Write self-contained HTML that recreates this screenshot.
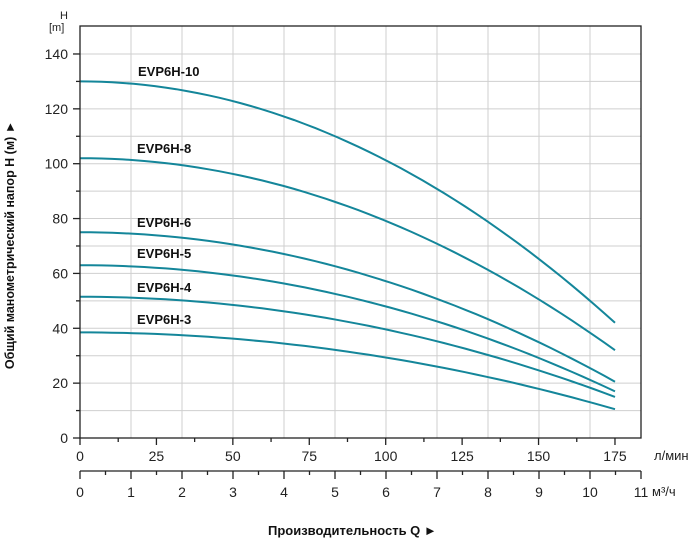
<!DOCTYPE html>
<html><head><meta charset="utf-8"><style>
body{margin:0;background:#fff;}
svg{display:block;font-family:"Liberation Sans",sans-serif;}
</style></head><body>
<svg id="s" width="700" height="547" viewBox="0 0 700 547" xmlns="http://www.w3.org/2000/svg">
<g id="grid" stroke="#cfcfcf" stroke-width="1"></g>
<g id="curves" fill="none" stroke="#14869a" stroke-width="2"></g>
<g id="axes" stroke="#222" stroke-width="1.3" fill="none"></g>
<g id="txt" font-size="14" fill="#222"></g>
<text x="60" y="19" font-size="11" fill="#222">H</text>
<text x="49" y="31" font-size="11" fill="#222">[m]</text>
<g font-size="13" font-weight="bold" fill="#111">
<text x="138" y="76">EVP6H-10</text>
<text x="137" y="153">EVP6H-8</text>
<text x="137" y="227">EVP6H-6</text>
<text x="137" y="258">EVP6H-5</text>
<text x="137" y="292">EVP6H-4</text>
<text x="137" y="324">EVP6H-3</text>
</g>
<text x="654" y="460" font-size="13" fill="#222">л/мин</text>
<text x="652" y="496" font-size="13" fill="#222">м³/ч</text>
<text x="268" y="535" font-size="13" font-weight="bold" fill="#111">Производительность Q ►</text>
<text transform="translate(14,245) rotate(-90)" text-anchor="middle" font-size="12.5" font-weight="bold" fill="#111">Общий манометрический напор H (м) ►</text>
</svg>
<script>
const ns="http://www.w3.org/2000/svg";
function el(p,t,a,txt){const e=document.createElementNS(ns,t);for(const k in a)e.setAttribute(k,a[k]);if(txt!==undefined)e.textContent=txt;document.getElementById(p).appendChild(e);}
const X0=80,X1=641,YB=438,YT=26;
const yv=h=>YB-h*2.743, xq=q=>X0+q*3.057, xm=m=>X0+m*51;
for(let m=1;m<=10;m++)el('grid','line',{x1:xm(m),x2:xm(m),y1:YT,y2:YB});
for(let h=10;h<=140;h+=10)el('grid','line',{x1:X0,x2:X1,y1:yv(h),y2:yv(h)});
el('axes','rect',{x:X0,y:YT,width:X1-X0,height:YB-YT});
for(let h=0;h<=140;h+=10){el('axes','line',{x1:X0-(h%20?4:7),x2:X0,y1:yv(h),y2:yv(h)});
 if(h%20==0)el('txt','text',{x:X0-12,y:yv(h)+5,'text-anchor':'end'},h);}
for(let q=0;q<=175;q+=12.5){const x=xq(q);el('axes','line',{x1:x,x2:x,y1:YB,y2:YB+(q%25?4:7)});
 if(q%25==0)el('txt','text',{x:x,y:461,'text-anchor':'middle'},q);}
el('axes','line',{x1:X0,x2:X1,y1:471,y2:471});
for(let m=0;m<=11;m+=0.5){const x=xm(m);el('axes','line',{x1:x,x2:x,y1:471,y2:471+(m%1?4:8)});
 if(m%1==0)el('txt','text',{x:x,y:497,'text-anchor':'middle'},m);}
const c=[[130,42],[102,32],[75,20.5],[63,17],[51.5,15],[38.5,10.5]];
for(const [h0,h1] of c){let d='';for(let i=0;i<=50;i++){const q=175*i/50,t=q/175;
 const h=h0-(h0-h1)*(t*t);d+=(i?'L':'M')+xq(q).toFixed(1)+' '+yv(h).toFixed(1);}
 el('curves','path',{d});}
</script>
</body></html>
